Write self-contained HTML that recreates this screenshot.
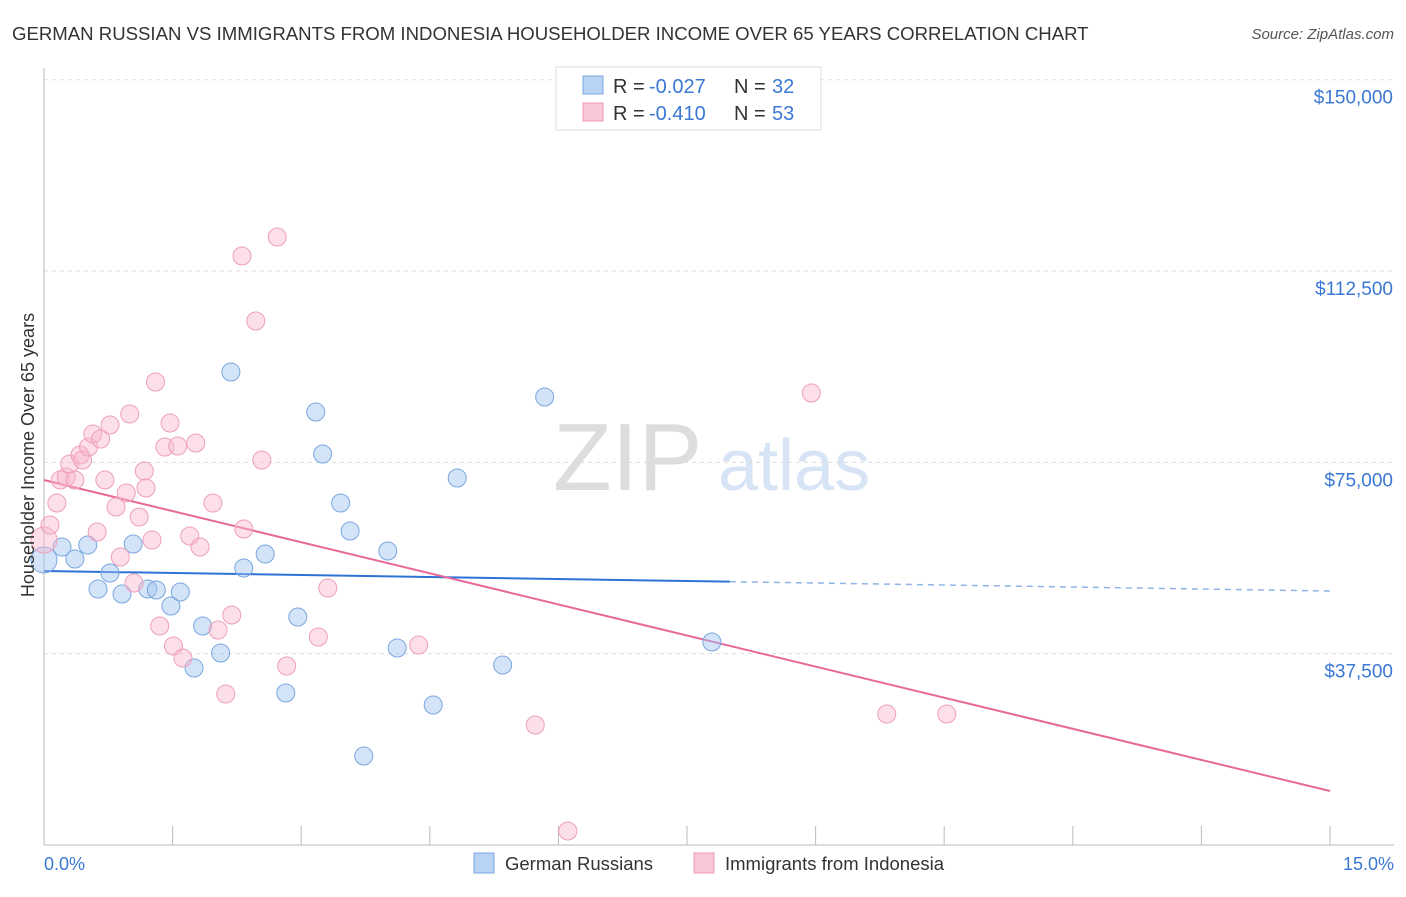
<!DOCTYPE html>
<html><head><meta charset="utf-8"><style>
body{margin:0;background:#fff;font-family:"Liberation Sans",sans-serif;}
svg text{font-family:"Liberation Sans",sans-serif;}
</style></head><body>
<svg id="chart" width="1406" height="892" xmlns="http://www.w3.org/2000/svg">
<text x="12" y="40" font-size="18.6" fill="#333">GERMAN RUSSIAN VS IMMIGRANTS FROM INDONESIA HOUSEHOLDER INCOME OVER 65 YEARS CORRELATION CHART</text>
<text x="1394" y="39" font-size="15" fill="#555" text-anchor="end" font-style="italic">Source: ZipAtlas.com</text>
<text x="553" y="490" font-size="96" fill="#ddd" font-family="Liberation Serif">ZIP</text>
<text x="718" y="490" font-size="72" fill="#d6e4f5">atlas</text>
<g id="grid"></g><g id="axes"></g><g id="trends"></g><g id="points"></g>
<text x="34" y="455" font-size="18" fill="#333" text-anchor="middle" transform="rotate(-90 34 455)">Householder Income Over 65 years</text>
<text x="44" y="870" font-size="18" fill="#3a78d4">0.0%</text>
<text x="1394" y="870" font-size="18" fill="#3a78d4" text-anchor="end">15.0%</text>
<g>
<rect x="556" y="67" width="265" height="63" fill="#fff" stroke="#ddd"/>
<rect x="583" y="76" width="20" height="18" fill="#b8d3f3" stroke="#7aa7e0"/>
<rect x="583" y="103" width="20" height="18" fill="#f9c6d6" stroke="#ec9ab6"/>
<text x="613" y="93" font-size="20" fill="#333">R = </text><text x="649" y="93" font-size="20" fill="#3a78d4">-0.027</text>
<text x="734" y="93" font-size="20" fill="#333">N = </text><text x="772" y="93" font-size="20" fill="#3a78d4">32</text>
<text x="613" y="120" font-size="20" fill="#333">R = </text><text x="649" y="120" font-size="20" fill="#3a78d4">-0.410</text>
<text x="734" y="120" font-size="20" fill="#333">N = </text><text x="772" y="120" font-size="20" fill="#3a78d4">53</text>
</g>
<g>
<rect x="474" y="853" width="20" height="20" fill="#b8d3f3" stroke="#7aa7e0"/>
<text x="505" y="870" font-size="18.5" fill="#333">German Russians</text>
<rect x="694" y="853" width="20" height="20" fill="#f9c6d6" stroke="#ec9ab6"/>
<text x="725" y="870" font-size="18.5" fill="#333">Immigrants from Indonesia</text>
</g>
</svg>
<script>
const yTicks=[37500,75000,112500,150000];
const yTickLabels=["$37,500","$75,000","$112,500","$150,000"];
const xTicks=[0,1.5,3,4.5,6,7.5,9,10.5,12,13.5,15];
const blueX=[0,0.21,0.36,0.51,0.63,0.77,0.91,1.04,1.21,1.31,1.48,1.59,1.75,1.85,2.06,2.18,2.33,2.58,2.82,2.96,3.17,3.25,3.46,3.57,3.73,4.01,4.12,4.54,4.82,5.35,5.84,7.79];
const blueY=[55860,58400,56060,58800,50180,53310,49200,59000,50180,49980,46840,49590,34690,42920,37630,92710,54290,57040,29790,44690,84870,76640,67030,61540,17440,57620,38610,27440,71930,35280,87810,39790];
const pinkX=[0,0.07,0.15,0.19,0.26,0.30,0.36,0.42,0.45,0.52,0.57,0.62,0.66,0.71,0.77,0.84,0.89,0.96,1.00,1.05,1.11,1.17,1.19,1.26,1.30,1.35,1.41,1.47,1.51,1.56,1.62,1.70,1.77,1.82,1.97,2.03,2.12,2.19,2.31,2.33,2.47,2.54,2.72,2.83,3.20,3.31,4.37,5.73,6.11,8.95,9.83,10.53];
const pinkY=[59780,62720,67030,71540,72130,74680,71540,76440,75460,78010,80560,61350,79580,71540,82320,66250,56450,68990,84480,51350,64290,73300,69970,59780,90750,42920,78010,82710,39000,78200,36650,60560,78790,58410,67030,42140,29600,45080,115440,61940,102700,75460,119170,35080,40770,50370,39200,23520,2740,88590,25680,25680];
const blueTrend=[53700,49780];
const pinkTrend=[71540,10580];
const blueSolidEnd=8.0;
const NS="http://www.w3.org/2000/svg";
const X=v=>44+v*(1286/15);
const Y=v=>845-v/196;
function mk(tag,attrs,parent){const e=document.createElementNS(NS,tag);for(const k in attrs)e.setAttribute(k,attrs[k]);document.getElementById(parent).appendChild(e);return e;}
yTicks.forEach((t,i)=>{
 const l=mk('line',{x1:44,x2:1394,y1:Y(t),y2:Y(t),stroke:'#ddd','stroke-dasharray':'4,4'},'grid');
 
 
 const tx=mk('text',{x:1393,y:Y(t)+24,'font-size':19,fill:'#3a78d4','text-anchor':'end'},'grid');
 tx.textContent=yTickLabels[i];
 
 
});
const ax=mk('line',{x1:44,x2:1394,y1:845,y2:845,stroke:'#bbb'},'axes');


const ay=mk('line',{x1:44,x2:44,y1:68,y2:845,stroke:'#bbb'},'axes');


xTicks.forEach(t=>{
 const l=mk('line',{x1:X(t),x2:X(t),y1:826,y2:845,stroke:'#bbb'},'axes');
 
 
});
const bt=mk('line',{x1:X(0),y1:Y(blueTrend[0]),x2:X(blueSolidEnd),y2:Y(blueTrend[0]+(blueTrend[1]-blueTrend[0])*blueSolidEnd/15),stroke:'#2f72d6','stroke-width':2},'trends');


const bd=mk('line',{x1:X(blueSolidEnd),y1:Y(blueTrend[0]+(blueTrend[1]-blueTrend[0])*blueSolidEnd/15),x2:X(15),y2:Y(blueTrend[1]),stroke:'#8fb3e6','stroke-width':1.5,'stroke-dasharray':'6,5'},'trends');


const pt=mk('line',{x1:X(0),y1:Y(pinkTrend[0]),x2:X(15),y2:Y(pinkTrend[1]),stroke:'#e8689a','stroke-width':2},'trends');


blueX.forEach((x,i)=>{
 const c=mk('circle',{cx:X(x),cy:Y(blueY[i]),r:i==0?13:9,fill:'rgba(160,196,240,0.45)',stroke:'#7aa7e0','stroke-width':1},'points');
 
 
});
pinkX.forEach((x,i)=>{
 const c=mk('circle',{cx:X(x),cy:Y(pinkY[i]),r:i==0?13:9,fill:'rgba(248,184,206,0.45)',stroke:'#ee9fbc','stroke-width':1},'points');
 
 
});
</script>
</body></html>
